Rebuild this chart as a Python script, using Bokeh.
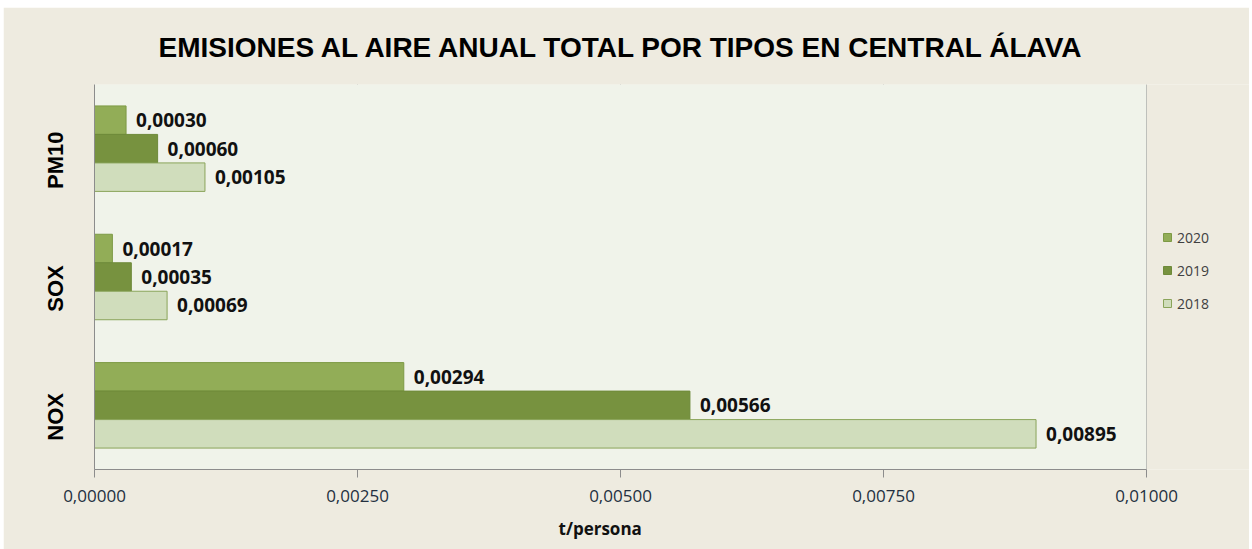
from bokeh.plotting import figure
from bokeh.models import (ColumnDataSource, Range1d, FixedTicker, Legend, LegendItem,
                          LinearAxis, BoxAnnotation, Title)
from bokeh.transform import dodge
from bokeh.core.properties import value
from bokeh.embed import file_html
from bokeh.resources import INLINE

# ---- data ----
categories = ["NOX", "SOX", "PM10"]
years = ["2020", "2019", "2018"]
v2020 = [0.00294, 0.00017, 0.00030]
v2019 = [0.00566, 0.00035, 0.00060]
v2018 = [0.00895, 0.00069, 0.00105]
x_ticks = [0.0, 0.0025, 0.005, 0.0075, 0.01]
x_tick_labels = ["0,00000", "0,00250", "0,00500", "0,00750", "0,01000"]
x_max = 0.01

def fmt(v):
    return f"{v:.5f}".replace(".", ",")

pos = list(range(len(categories)))
src = ColumnDataSource(dict(
    pos=pos,
    v2020=v2020, v2019=v2019, v2018=v2018,
    l2020=[fmt(v) for v in v2020],
    l2019=[fmt(v) for v in v2019],
    l2018=[fmt(v) for v in v2018],
))

OUTER_BG = "#EEEBE0"
PLOT_BG = "#F0F3EA"
GRID = "#8C8C8C"

FIG_W, FIG_H = 1246, 539
LEFT, TOP, BOTTOM = 91, 77, 77
DATA_W = 1052                      # pixels covering 0 .. x_max
FRAME_W = FIG_W - LEFT             # frame extends to the right edge (room for legend)
FRAME_H = FIG_H - TOP - BOTTOM

p = figure(frame_width=FRAME_W, frame_height=FRAME_H, output_backend="svg",
           toolbar_location=None, y_axis_location=None,
           x_range=Range1d(0, x_max * FRAME_W / DATA_W), y_range=Range1d(-0.5, 2.5),
           min_border_left=LEFT, min_border_right=0, min_border_top=TOP,
           min_border_bottom=BOTTOM)
p.margin = (7, 3, 3, 3)
p.background_fill_color = OUTER_BG
p.border_fill_color = OUTER_BG
p.outline_line_color = None

# plot area background only over the data range
p.add_layout(BoxAnnotation(left=0, right=x_max, fill_color=PLOT_BG, fill_alpha=1,
                           line_color=None, level="underlay"))

bar_h = 0.222
specs = [
    ("2020", "v2020", "l2020", bar_h, "#92AD57", "#7D9A45"),
    ("2019", "v2019", "l2019", 0.0, "#77923F", "#6E8A3A"),
    ("2018", "v2018", "l2018", -bar_h, "#D0DDBC", "#8AA45A"),
]
items = []
for yr, col, lab, off, fill, line in specs:
    r = p.hbar(y=dodge("pos", off), right=col, left=0, height=bar_h, source=src,
               fill_color=fill, line_color=line, line_width=1)
    p.text(x=col, y=dodge("pos", off), text=lab, source=src,
           x_offset=10, text_baseline="middle", text_align="left",
           text_font=value("Open Sans"), text_font_style="bold",
           text_font_size="19px", text_color="#111111")
    items.append(LegendItem(label=yr, renderers=[r]))

# x axis
p.xaxis.ticker = FixedTicker(ticks=x_ticks)
p.xaxis.major_label_overrides = {t: l for t, l in zip(x_ticks, x_tick_labels)}
p.xaxis.bounds = (0, x_max)
p.xaxis.axis_line_color = GRID
p.xaxis.major_tick_line_color = GRID
p.xaxis.major_tick_out = 8
p.xaxis.major_tick_in = 0
p.xaxis.minor_tick_line_color = None
p.xaxis.major_label_standoff = 12
p.xaxis.major_label_text_font = "Open Sans"
p.xaxis.major_label_text_font_size = "17px"
p.xaxis.major_label_text_color = "#243040"

# y axis (category labels, set slightly lower like the original)
p.extra_y_ranges = {"lab": Range1d(-0.5 + 0.09, 2.5 + 0.09)}
yax = LinearAxis(y_range_name="lab", ticker=FixedTicker(ticks=pos),
                 major_label_overrides={i: c for i, c in zip(pos, categories)},
                 major_label_orientation="vertical",
                 axis_line_color=GRID, major_tick_line_color=None,
                 minor_tick_line_color=None, major_label_standoff=20,
                 major_label_text_font="Liberation Sans",
                 major_label_text_font_style="bold",
                 major_label_text_font_size="22px",
                 major_label_text_color="#000000")
p.add_layout(yax, "left")

# grid
p.xgrid.grid_line_color = GRID
p.xgrid.grid_line_width = 1
p.ygrid.grid_line_color = None

# title
p.title.text = "EMISIONES AL AIRE ANUAL TOTAL POR TIPOS EN CENTRAL ÁLAVA"
p.title.align = "left"
p.title.offset = 64
p.title.text_font = "Liberation Sans"
p.title.text_font_style = "bold"
p.title.text_font_size = "28px"
p.title.text_color = "#000000"
p.title.standoff = 43

# x axis title
xt = Title(text="t/persona", align="left", offset=464, text_font="Open Sans",
           text_font_style="bold", text_font_size="17px", text_color="#111111",
           standoff=21)
p.add_layout(xt, "below")

legend = Legend(items=items, location=(1068, 156), margin=0, padding=10,
                glyph_width=10, glyph_height=10, label_standoff=5,
                label_height=20, spacing=13,
                label_text_font="Open Sans", label_text_font_size="14px",
                label_text_color="#404040",
                border_line_color=None, background_fill_alpha=0)
p.add_layout(legend, "center")

open("out.html", "w").write(file_html(p, INLINE))
